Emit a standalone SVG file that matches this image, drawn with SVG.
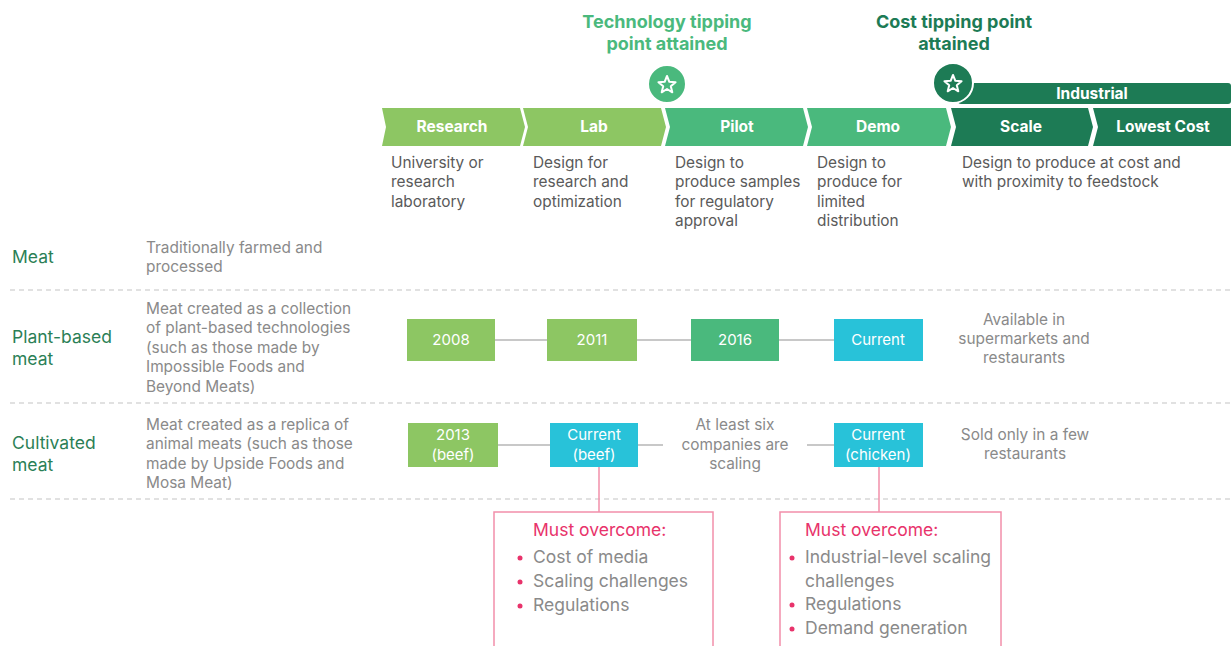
<svg xmlns="http://www.w3.org/2000/svg" width="1231" height="646" viewBox="0 0 1231 646">
  <style>
    text { font-family: Inter, "Open Sans", "Liberation Sans", sans-serif; }
    .title { font-size: 18px; font-weight: 700; text-anchor: middle; }
    .stage { font-size: 15.5px; font-weight: 700; fill: #ffffff; text-anchor: middle; }
    .desc { font-size: 15.4px; fill: #5a5a5a; }
    .row { font-size: 17.5px; fill: #2b7f56; }
    .rowdesc { font-size: 15.4px; fill: #8a8a8a; }
    .note { font-size: 15.4px; fill: #8a8a8a; text-anchor: middle; }
    .box { font-size: 15px; fill: #ffffff; text-anchor: middle; }
    .must { font-size: 17.5px; fill: #e8336b; }
    .item { font-size: 17.5px; fill: #8a8a8a; }
    .dash { stroke: #c4c4c4; stroke-width: 1.2; stroke-dasharray: 5 4; }
    .link { stroke: #c8c8c8; stroke-width: 2; }
    .pink { stroke: #f28faa; stroke-width: 1.5; fill: none; }
    .bullet { fill: #e8336b; }
    .star { fill: none; stroke: #ffffff; stroke-width: 2; stroke-linejoin: round; }
  </style>
  <defs>
    <path id="star" d="M0,-9 L2.35,-3.24 L8.56,-2.78 L3.8,1.24 L5.29,7.28 L0,4 L-5.29,7.28 L-3.8,1.24 L-8.56,-2.78 L-2.35,-3.24 Z"/>
  </defs>

  <rect width="1231" height="646" fill="#ffffff"/>

  <!-- tipping point headings -->
  <g id="tech-tipping">
    <text class="title" x="667" y="28" fill="#4ab97d">Technology tipping</text>
    <text class="title" x="667" y="50" fill="#4ab97d">point attained</text>
    <circle cx="667" cy="84" r="19" fill="#4ab97d" stroke="#ffffff" stroke-width="2"/>
    <use href="#star" x="667" y="85" class="star"/>
  </g>
  <g id="cost-tipping">
    <text class="title" x="954" y="28" fill="#1d7b55">Cost tipping point</text>
    <text class="title" x="954" y="50" fill="#1d7b55">attained</text>
  </g>

  <!-- industrial band -->
  <g id="industrial">
    <rect x="958" y="83" width="273" height="21" rx="3" fill="#1d7b55"/>
    <text x="1092" y="99" font-size="15.5" font-weight="700" fill="#ffffff" text-anchor="middle">Industrial</text>
    <circle cx="953" cy="83" r="20" fill="#1d7b55" stroke="#ffffff" stroke-width="2"/>
    <use href="#star" x="953" y="84" class="star"/>
  </g>

  <!-- stage chevrons -->
  <g id="stage-research">
    <polygon points="382,108 520,108 525,127 520,146 382,146 386,127" fill="#8dc663"/>
    <text class="stage" x="452" y="132">Research</text>
  </g>
  <g id="stage-lab">
    <polygon points="523,108 661,108 666,127 661,146 523,146 528,127" fill="#8dc663"/>
    <text class="stage" x="594" y="132">Lab</text>
  </g>
  <g id="stage-pilot">
    <polygon points="665,108 803,108 808,127 803,146 665,146 670,127" fill="#4ab97d"/>
    <text class="stage" x="737" y="132">Pilot</text>
  </g>
  <g id="stage-demo">
    <polygon points="807,108 946,108 951,127 946,146 807,146 812,127" fill="#4ab97d"/>
    <text class="stage" x="878" y="132">Demo</text>
  </g>
  <g id="stage-scale">
    <polygon points="951,108 1088,108 1093,127 1088,146 951,146 956,127" fill="#1d7b55"/>
    <text class="stage" x="1021" y="132">Scale</text>
  </g>
  <g id="stage-lowest-cost">
    <polygon points="1093,108 1231,108 1231,146 1093,146 1098,127" fill="#1d7b55"/>
    <text class="stage" x="1163" y="132">Lowest Cost</text>
  </g>

  <!-- stage descriptions -->
  <g id="stage-descriptions">
    <text class="desc" x="391" y="168">University or</text>
    <text class="desc" x="391" y="187">research</text>
    <text class="desc" x="391" y="207">laboratory</text>
    <text class="desc" x="533" y="168">Design for</text>
    <text class="desc" x="533" y="187">research and</text>
    <text class="desc" x="533" y="207">optimization</text>
    <text class="desc" x="675" y="168">Design to</text>
    <text class="desc" x="675" y="187">produce samples</text>
    <text class="desc" x="675" y="207">for regulatory</text>
    <text class="desc" x="675" y="226">approval</text>
    <text class="desc" x="817" y="168">Design to</text>
    <text class="desc" x="817" y="187">produce for</text>
    <text class="desc" x="817" y="207">limited</text>
    <text class="desc" x="817" y="226">distribution</text>
    <text class="desc" x="962" y="168">Design to produce at cost and</text>
    <text class="desc" x="962" y="187">with proximity to feedstock</text>
  </g>

  <!-- row separators -->
  <g id="separators">
    <line class="dash" x1="10" y1="290" x2="1231" y2="290"/>
    <line class="dash" x1="10" y1="403" x2="1231" y2="403"/>
    <line class="dash" x1="10" y1="499" x2="1231" y2="499"/>
  </g>

  <!-- row headings -->
  <g id="row-meat">
    <text class="row" x="12" y="263">Meat</text>
    <text class="rowdesc" x="146" y="253">Traditionally farmed and</text>
    <text class="rowdesc" x="146" y="272">processed</text>
  </g>
  <g id="row-plant-based">
    <text class="row" x="12" y="343">Plant-based</text>
    <text class="row" x="12" y="365">meat</text>
    <text class="rowdesc" x="146" y="314">Meat created as a collection</text>
    <text class="rowdesc" x="146" y="333">of plant-based technologies</text>
    <text class="rowdesc" x="146" y="353">(such as those made by</text>
    <text class="rowdesc" x="146" y="372">Impossible Foods and</text>
    <text class="rowdesc" x="146" y="392">Beyond Meats)</text>
  </g>
  <g id="row-cultivated">
    <text class="row" x="12" y="449">Cultivated</text>
    <text class="row" x="12" y="471">meat</text>
    <text class="rowdesc" x="146" y="430">Meat created as a replica of</text>
    <text class="rowdesc" x="146" y="449">animal meats (such as those</text>
    <text class="rowdesc" x="146" y="469">made by Upside Foods and</text>
    <text class="rowdesc" x="146" y="488">Mosa Meat)</text>
  </g>

  <!-- connectors -->
  <g id="connectors">
    <line class="link" x1="495" y1="340" x2="547" y2="340"/>
    <line class="link" x1="637" y1="340" x2="691" y2="340"/>
    <line class="link" x1="779" y1="340" x2="834" y2="340"/>
    <line class="link" x1="498" y1="445" x2="550" y2="445"/>
    <line class="link" x1="638" y1="445" x2="663" y2="445"/>
    <line class="link" x1="807" y1="445" x2="834" y2="445"/>
    <line class="pink" x1="599" y1="467" x2="599" y2="512"/>
    <line class="pink" x1="879" y1="467" x2="879" y2="512"/>
  </g>

  <!-- plant-based milestones -->
  <g id="pb-2008">
    <rect x="407" y="319" width="88" height="42" fill="#8dc663"/>
    <text class="box" x="451" y="345">2008</text>
  </g>
  <g id="pb-2011">
    <rect x="547" y="319" width="90" height="42" fill="#8dc663"/>
    <text class="box" x="592" y="345">2011</text>
  </g>
  <g id="pb-2016">
    <rect x="691" y="319" width="88" height="42" fill="#4ab97d"/>
    <text class="box" x="735" y="345">2016</text>
  </g>
  <g id="pb-current">
    <rect x="834" y="319" width="89" height="42" fill="#28c2d9"/>
    <text class="box" x="878" y="345">Current</text>
  </g>
  <g id="pb-status">
    <text class="note" x="1024" y="325">Available in</text>
    <text class="note" x="1024" y="344">supermarkets and</text>
    <text class="note" x="1024" y="363">restaurants</text>
  </g>

  <!-- cultivated milestones -->
  <g id="cm-2013">
    <rect x="408" y="423" width="90" height="44" fill="#8dc663"/>
    <text class="box" x="453" y="440">2013</text>
    <text class="box" x="453" y="460">(beef)</text>
  </g>
  <g id="cm-current-beef">
    <rect x="550" y="423" width="88" height="44" fill="#28c2d9"/>
    <text class="box" x="594" y="440">Current</text>
    <text class="box" x="594" y="460">(beef)</text>
  </g>
  <g id="cm-scaling">
    <text class="note" x="735" y="430">At least six</text>
    <text class="note" x="735" y="450">companies are</text>
    <text class="note" x="735" y="469">scaling</text>
  </g>
  <g id="cm-current-chicken">
    <rect x="834" y="423" width="89" height="44" fill="#28c2d9"/>
    <text class="box" x="878" y="440">Current</text>
    <text class="box" x="878" y="460">(chicken)</text>
  </g>
  <g id="cm-status">
    <text class="note" x="1025" y="440">Sold only in a few</text>
    <text class="note" x="1025" y="459">restaurants</text>
  </g>

  <!-- obstacles -->
  <g id="obstacles-beef">
    <rect class="pink" x="494" y="512" width="219" height="140"/>
    <text class="must" x="533" y="536">Must overcome:</text>
    <circle class="bullet" cx="520" cy="558" r="2.5"/>
    <text class="item" x="533" y="563">Cost of media</text>
    <circle class="bullet" cx="520" cy="582" r="2.5"/>
    <text class="item" x="533" y="587">Scaling challenges</text>
    <circle class="bullet" cx="520" cy="606" r="2.5"/>
    <text class="item" x="533" y="611">Regulations</text>
  </g>
  <g id="obstacles-chicken">
    <rect class="pink" x="780" y="512" width="221" height="140"/>
    <text class="must" x="805" y="536">Must overcome:</text>
    <circle class="bullet" cx="792" cy="558" r="2.5"/>
    <text class="item" x="805" y="563">Industrial-level scaling</text>
    <text class="item" x="805" y="587">challenges</text>
    <circle class="bullet" cx="792" cy="605" r="2.5"/>
    <text class="item" x="805" y="610">Regulations</text>
    <circle class="bullet" cx="792" cy="629" r="2.5"/>
    <text class="item" x="805" y="634">Demand generation</text>
  </g>
</svg>
